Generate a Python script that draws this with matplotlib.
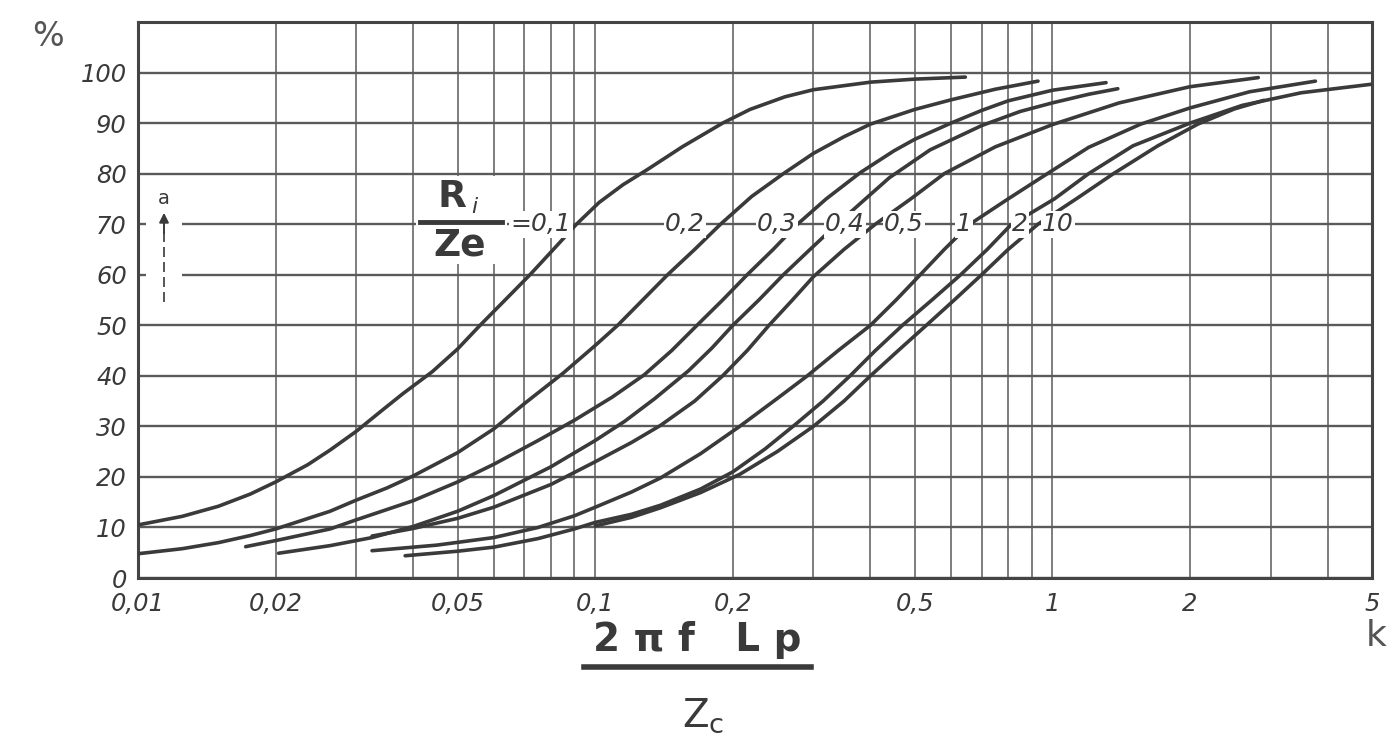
import matplotlib
matplotlib.use("Agg")
import matplotlib.pyplot as plt
from matplotlib.lines import Line2D
from matplotlib.patches import Rectangle

# curve families a(%) vs 2*pi*f*Lp/Zc for several Ri/Ze ratios
ratio_labels = ["0,1", "0,2", "0,3", "0,4", "0,5", "1", "2", "10"]

x_01 = [0.01, 0.0125, 0.015, 0.0176, 0.02, 0.0235, 0.0263, 0.03, 0.034, 0.038, 0.044, 0.05, 0.056,
        0.064, 0.072, 0.081, 0.091, 0.102, 0.115, 0.13, 0.155, 0.19, 0.218, 0.26, 0.3, 0.4, 0.5, 0.645]
y_01 = [10.5, 12.2, 14.2, 16.6, 19, 22.4, 25.3, 29.0, 33.0, 36.5, 40.8, 45.3, 50,
        55.3, 60, 65, 70, 74.3, 77.8, 80.8, 85.3, 90, 92.7, 95.2, 96.6, 98.1, 98.7, 99.1]

x_02 = [0.01, 0.0125, 0.015, 0.0176, 0.02, 0.0263, 0.03, 0.035, 0.04, 0.05, 0.06, 0.07, 0.085,
        0.1, 0.112, 0.127, 0.144, 0.165, 0.188, 0.22, 0.258, 0.3, 0.35, 0.4, 0.5, 0.6, 0.75, 0.93]
y_02 = [4.8, 5.8, 7.0, 8.4, 9.7, 13.2, 15.4, 17.8, 20.2, 24.8, 29.5, 34.5, 40.5,
        46, 50, 55, 60, 65, 70, 75.5, 80, 84, 87.3, 89.8, 92.7, 94.6, 96.7, 98.3]

x_03 = [0.0172, 0.02, 0.0263, 0.03, 0.04, 0.05, 0.06, 0.075, 0.09, 0.109, 0.128, 0.147, 0.167,
        0.19, 0.215, 0.245, 0.277, 0.32, 0.38, 0.45, 0.5, 0.6, 0.7, 0.8, 1.0, 1.31]
y_03 = [6.2, 7.4, 9.7, 11.5, 15.3, 19.0, 22.5, 27.2, 31.2, 35.8, 40.2, 45, 50,
        55, 60, 65, 70, 75, 80.2, 84.5, 86.8, 90, 92.5, 94.4, 96.5, 98]

x_04 = [0.0203, 0.0263, 0.0325, 0.04, 0.05, 0.06, 0.08, 0.1, 0.116, 0.135, 0.16, 0.18, 0.2,
        0.228, 0.258, 0.295, 0.338, 0.39, 0.44, 0.54, 0.7, 0.85, 1.0, 1.2, 1.39]
y_04 = [4.9, 6.4, 8.0, 10.2, 13.2, 16.3, 22, 27.2, 31, 35.5, 41, 45.5, 50,
        55, 60, 65, 70, 75, 79.2, 84.7, 89.5, 92.3, 94, 95.7, 96.8]

x_05 = [0.0325, 0.04, 0.05, 0.06, 0.08, 0.1, 0.12, 0.139, 0.165, 0.19, 0.215, 0.24,
        0.27, 0.3, 0.35, 0.41, 0.49, 0.58, 0.75, 1.0, 1.4, 2.0, 2.82]
y_05 = [8.3, 9.8, 11.8, 14, 18.5, 23, 26.8, 30.2, 35, 40, 45, 50,
        55, 59.6, 65, 70, 75, 80, 85.3, 89.7, 94, 97.2, 99]

x_1 = [0.0325, 0.045, 0.06, 0.075, 0.09, 0.1, 0.12, 0.139, 0.17, 0.207, 0.25, 0.291, 0.34,
       0.40, 0.455, 0.514, 0.58, 0.66, 0.8, 0.975, 1.2, 1.56, 2.0, 2.7, 3.76]
y_1 = [5.4, 6.5, 8.0, 10, 12.3, 14, 17, 19.8, 24.6, 30, 35.5, 40, 45,
       50, 55, 60, 65, 70, 75, 80, 85.2, 89.8, 93, 96.2, 98.3]

x_2 = [0.0384, 0.05, 0.06, 0.075, 0.09, 0.1, 0.12, 0.139, 0.17, 0.2, 0.235, 0.275, 0.315, 0.361,
       0.41, 0.47, 0.545, 0.63, 0.72, 0.81, 1.01, 1.2, 1.5, 2.0, 2.6, 3.5, 5.0]
y_2 = [4.4, 5.3, 6.1, 7.8, 9.7, 11, 12.6, 14.4, 17.6, 21, 25.5, 30.5, 35, 40,
       45, 50, 55, 60, 65, 69.8, 75, 80, 85.5, 90, 93.5, 96, 97.7]

x_10 = [0.1, 0.12, 0.139, 0.17, 0.207, 0.25, 0.3, 0.35, 0.4, 0.46, 0.53, 0.61, 0.70, 0.8,
        0.93, 1.14, 1.36, 1.7, 2.08, 2.5, 2.9]
y_10 = [10.3, 12, 13.9, 16.9, 20.5, 25, 30, 35, 40, 45, 50, 55, 60, 65,
        70, 75.3, 80, 85.5, 89.8, 92.8, 94.5]

curves_x = [x_01, x_02, x_03, x_04, x_05, x_1, x_2, x_10]
curves_y = [y_01, y_02, y_03, y_04, y_05, y_1, y_2, y_10]

x_ticks = [0.01, 0.02, 0.05, 0.1, 0.2, 0.5, 1, 2, 5]
x_tick_labels = ["0,01", "0,02", "0,05", "0,1", "0,2", "0,5", "1", "2", "5"]
x_grid = [0.01, 0.02, 0.03, 0.04, 0.05, 0.06, 0.07, 0.08, 0.09,
          0.1, 0.2, 0.3, 0.4, 0.5, 0.6, 0.7, 0.8, 0.9, 1, 2, 3, 4, 5]
y_ticks = [0, 10, 20, 30, 40, 50, 60, 70, 80, 90, 100]

W, H = 1388, 753
ink = "#3a3a3a"
grid_c = "#5a5a5a"

fig = plt.figure(figsize=(W / 100, H / 100), dpi=100)
L, R, T, B = 138, 1372, 22, 578
ax = fig.add_axes([L / W, 1 - B / H, (R - L) / W, (B - T) / H])

def fx(p):
    return p / W

def fy(p):
    return 1 - p / H

ax.set_xscale("log")
ax.set_xlim(0.01, 5)
ax.set_ylim(0, 110)

ax.set_xticks(x_grid, minor=True)
ax.set_xticks(x_ticks)
ax.set_xticklabels(x_tick_labels)
ax.xaxis.set_minor_formatter(plt.NullFormatter())
ax.set_yticks(y_ticks)
ax.set_yticklabels([str(v) for v in y_ticks])
ax.tick_params(which="both", length=0, colors=ink)
ax.tick_params(axis="y", pad=8)
ax.tick_params(axis="x", pad=10)
for lab in ax.get_xticklabels() + ax.get_yticklabels():
    lab.set_fontstyle("italic")
    lab.set_fontsize(17.5)
    lab.set_color(ink)

ax.grid(axis="x", which="both", color=grid_c, lw=1.1)
ax.grid(axis="y", which="major", color=grid_c, lw=1.7)
for s in ax.spines.values():
    s.set_linewidth(2.2)
    s.set_color("#444444")

for xs, ys in zip(curves_x, curves_y):
    ax.plot(xs, ys, color=ink, lw=2.6, solid_capstyle="round", solid_joinstyle="round", zorder=3)

# white gaps: arrow on the left, the Ri/Ze fraction
ax.add_patch(Rectangle((fx(146), fy(300)), fx(36), (300 - 205) / H,
                       transform=fig.transFigure, facecolor="white", edgecolor="none", zorder=2))
ax.add_patch(Rectangle((fx(416), fy(264)), fx(91), (264 - 176) / H,
                       transform=fig.transFigure, facecolor="white", edgecolor="none", zorder=2))

# "a" arrow
fig.add_artist(Line2D([fx(164), fx(164)], [fy(302), fy(232)], color=ink, lw=1.2, ls=(0, (6, 3))))
ax.annotate("", xy=(fx(164), fy(210)), xytext=(fx(164), fy(236)),
            xycoords="figure fraction", textcoords="figure fraction",
            arrowprops=dict(arrowstyle="-|>", color=ink, lw=1.4, mutation_scale=14))
fig.text(fx(164), fy(198), "a", ha="center", va="center", fontsize=14, color=ink)

# ratio labels on the 70 % line
label_px = [541, 685, 777, 845, 904, 964, 1020, 1058]
ly = ax.get_yaxis_transform()
for i, (s, p) in enumerate(zip(ratio_labels, label_px)):
    txt = "=" + s if i == 0 else s
    ax.text((p - L) / (R - L), 70, txt, transform=ly, ha="center", va="center",
            fontsize=18, style="italic", color=ink, zorder=5,
            bbox=dict(facecolor="white", edgecolor="none", pad=1.0))

# Ri / Ze fraction
fig.text(fx(452), fy(197), "R", ha="center", va="center", fontsize=27, weight="bold", color=ink)
fig.text(fx(474), fy(207), "i", ha="center", va="center", fontsize=16, style="italic", color=ink)
fig.add_artist(Line2D([fx(420), fx(502)], [fy(222), fy(222)], color=ink, lw=3.5))
fig.text(fx(460), fy(246), "Ze", ha="center", va="center", fontsize=27, weight="bold", color=ink)

# x label
fig.text(fx(697), fy(640), "2 π f   L p", ha="center", va="center", fontsize=28, weight="bold", color=ink)
fig.add_artist(Line2D([fx(584), fx(811)], [fy(667), fy(667)], color=ink, lw=4))
fig.text(fx(703), fy(716), r"$\mathregular{Z_c}$", ha="center", va="center", fontsize=28, color=ink)

fig.text(fx(48), fy(36), "%", ha="center", va="center", fontsize=24, color="#555555")
fig.text(fx(1366), fy(636), "k", ha="left", va="center", fontsize=26, color="#555555")

fig.savefig("out.png", dpi=100, facecolor="white")
